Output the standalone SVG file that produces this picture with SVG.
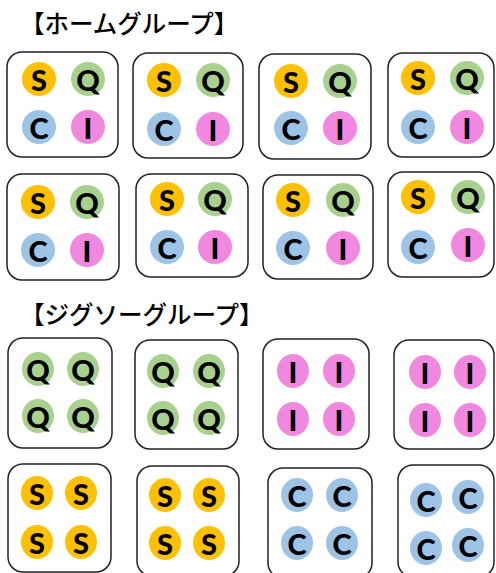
<svg xmlns="http://www.w3.org/2000/svg" width="496" height="573" viewBox="0 0 496 573">
<style>
.title{font-family:"Noto Sans CJK JP","Noto Sans",sans-serif;font-size:24.5px;font-weight:500;fill:#000}
.box{fill:#fff;stroke:#222;stroke-width:1.5}
.s{fill:#FFC000}.q{fill:#A9D18E}.c{fill:#9DC3E6}.i{fill:#F088E0}
.l{font-family:Lato,"Open Sans",sans-serif;font-weight:900;font-size:29px;fill:#000;text-anchor:middle;dominant-baseline:central}
</style>
<rect width="496" height="573" fill="#fff"/>
<text class="title" x="20" y="33">【ホームグループ】</text>
<text class="title" x="20" y="324">【ジグソーグループ】</text>

<g id="home1"><rect class="box" x="7" y="52" width="111" height="105" rx="15"/>
<circle class="s" cx="39" cy="79" r="17"/><text class="l" x="39" y="79">S</text>
<circle class="q" cx="88" cy="79" r="17"/><text class="l" x="88" y="79">Q</text>
<circle class="c" cx="39" cy="127" r="17"/><text class="l" x="39" y="127">C</text>
<circle class="i" cx="88" cy="127" r="17"/><text class="l" x="88" y="127">I</text></g>

<g id="home2"><rect class="box" x="133" y="53" width="110" height="105" rx="15"/>
<circle class="s" cx="164" cy="80" r="17"/><text class="l" x="164" y="80">S</text>
<circle class="q" cx="213" cy="80" r="17"/><text class="l" x="213" y="80">Q</text>
<circle class="c" cx="164" cy="129" r="17"/><text class="l" x="164" y="129">C</text>
<circle class="i" cx="213" cy="129" r="17"/><text class="l" x="213" y="129">I</text></g>

<g id="home3"><rect class="box" x="259" y="54" width="112" height="105" rx="15"/>
<circle class="s" cx="291" cy="81" r="17"/><text class="l" x="291" y="81">S</text>
<circle class="q" cx="340" cy="81" r="17"/><text class="l" x="340" y="81">Q</text>
<circle class="c" cx="291" cy="128" r="17"/><text class="l" x="291" y="128">C</text>
<circle class="i" cx="340" cy="128" r="17"/><text class="l" x="340" y="128">I</text></g>

<g id="home4"><rect class="box" x="388" y="53" width="106" height="104" rx="15"/>
<circle class="s" cx="418" cy="78" r="17"/><text class="l" x="418" y="78">S</text>
<circle class="q" cx="467" cy="78" r="17"/><text class="l" x="467" y="78">Q</text>
<circle class="c" cx="418" cy="127" r="17"/><text class="l" x="418" y="127">C</text>
<circle class="i" cx="467" cy="127" r="17"/><text class="l" x="467" y="127">I</text></g>

<g id="home5"><rect class="box" x="7" y="174" width="112" height="106" rx="15"/>
<circle class="s" cx="38" cy="202" r="17"/><text class="l" x="38" y="202">S</text>
<circle class="q" cx="87" cy="202" r="17"/><text class="l" x="87" y="202">Q</text>
<circle class="c" cx="38" cy="250" r="17"/><text class="l" x="38" y="250">C</text>
<circle class="i" cx="87" cy="250" r="17"/><text class="l" x="87" y="250">I</text></g>

<g id="home6"><rect class="box" x="136" y="174" width="112" height="103" rx="15"/>
<circle class="s" cx="167" cy="199" r="17"/><text class="l" x="167" y="199">S</text>
<circle class="q" cx="215" cy="199" r="17"/><text class="l" x="215" y="199">Q</text>
<circle class="c" cx="167" cy="247" r="17"/><text class="l" x="167" y="247">C</text>
<circle class="i" cx="215" cy="247" r="17"/><text class="l" x="215" y="247">I</text></g>

<g id="home7"><rect class="box" x="263" y="175" width="110" height="104" rx="15"/>
<circle class="s" cx="293" cy="200" r="17"/><text class="l" x="293" y="200">S</text>
<circle class="q" cx="343" cy="200" r="17"/><text class="l" x="343" y="200">Q</text>
<circle class="c" cx="293" cy="248" r="17"/><text class="l" x="293" y="248">C</text>
<circle class="i" cx="343" cy="248" r="17"/><text class="l" x="343" y="248">I</text></g>

<g id="home8"><rect class="box" x="388" y="172" width="106" height="105" rx="15"/>
<circle class="s" cx="418" cy="197" r="17"/><text class="l" x="418" y="197">S</text>
<circle class="q" cx="468" cy="197" r="17"/><text class="l" x="468" y="197">Q</text>
<circle class="c" cx="418" cy="247" r="17"/><text class="l" x="418" y="247">C</text>
<circle class="i" cx="468" cy="245" r="17"/><text class="l" x="468" y="245">I</text></g>

<g id="jigsawQ1"><rect class="box" x="8" y="338" width="104" height="110" rx="15"/>
<ellipse class="q" cx="38" cy="369" rx="16" ry="17"/><text class="l" x="38" y="369">Q</text>
<ellipse class="q" cx="83" cy="369" rx="16" ry="17"/><text class="l" x="83" y="369">Q</text>
<ellipse class="q" cx="38" cy="416" rx="16" ry="17"/><text class="l" x="38" y="416">Q</text>
<ellipse class="q" cx="83" cy="416" rx="16" ry="17"/><text class="l" x="83" y="416">Q</text></g>

<g id="jigsawQ2"><rect class="box" x="135" y="340" width="103" height="109" rx="15"/>
<ellipse class="q" cx="163" cy="371" rx="16" ry="17"/><text class="l" x="163" y="371">Q</text>
<ellipse class="q" cx="209" cy="371" rx="16" ry="17"/><text class="l" x="209" y="371">Q</text>
<ellipse class="q" cx="163" cy="418" rx="16" ry="17"/><text class="l" x="163" y="418">Q</text>
<ellipse class="q" cx="209" cy="418" rx="16" ry="17"/><text class="l" x="209" y="418">Q</text></g>

<g id="jigsawI1"><rect class="box" x="263" y="339" width="106" height="110" rx="15"/>
<ellipse class="i" cx="293" cy="371" rx="16" ry="17"/><text class="l" x="293" y="371">I</text>
<ellipse class="i" cx="339" cy="371" rx="16" ry="17"/><text class="l" x="339" y="371">I</text>
<ellipse class="i" cx="293" cy="419" rx="16" ry="17"/><text class="l" x="293" y="419">I</text>
<ellipse class="i" cx="339" cy="419" rx="16" ry="17"/><text class="l" x="339" y="419">I</text></g>

<g id="jigsawI2"><rect class="box" x="394" y="340" width="100" height="109" rx="15"/>
<ellipse class="i" cx="425" cy="372" rx="16" ry="17"/><text class="l" x="425" y="372">I</text>
<ellipse class="i" cx="470" cy="372" rx="16" ry="17"/><text class="l" x="470" y="372">I</text>
<ellipse class="i" cx="425" cy="420" rx="16" ry="17"/><text class="l" x="425" y="420">I</text>
<ellipse class="i" cx="470" cy="420" rx="16" ry="17"/><text class="l" x="470" y="420">I</text></g>

<g id="jigsawS1"><rect class="box" x="8" y="464" width="103" height="108" rx="15"/>
<ellipse class="s" cx="37" cy="493" rx="16" ry="17"/><text class="l" x="37" y="493">S</text>
<ellipse class="s" cx="81" cy="493" rx="16" ry="17"/><text class="l" x="81" y="493">S</text>
<ellipse class="s" cx="37" cy="542" rx="16" ry="17"/><text class="l" x="37" y="542">S</text>
<ellipse class="s" cx="81" cy="542" rx="16" ry="17"/><text class="l" x="81" y="542">S</text></g>

<g id="jigsawS2"><rect class="box" x="137" y="466" width="102" height="110" rx="15"/>
<ellipse class="s" cx="165" cy="495" rx="16" ry="17"/><text class="l" x="165" y="495">S</text>
<ellipse class="s" cx="209" cy="495" rx="16" ry="17"/><text class="l" x="209" y="495">S</text>
<ellipse class="s" cx="165" cy="543" rx="16" ry="17"/><text class="l" x="165" y="543">S</text>
<ellipse class="s" cx="209" cy="543" rx="16" ry="17"/><text class="l" x="209" y="543">S</text></g>

<g id="jigsawC1"><rect class="box" x="268" y="468" width="104" height="110" rx="15"/>
<ellipse class="c" cx="297" cy="495" rx="16" ry="17"/><text class="l" x="297" y="495">C</text>
<ellipse class="c" cx="342" cy="495" rx="16" ry="17"/><text class="l" x="342" y="495">C</text>
<ellipse class="c" cx="297" cy="543" rx="16" ry="17"/><text class="l" x="297" y="543">C</text>
<ellipse class="c" cx="342" cy="543" rx="16" ry="17"/><text class="l" x="342" y="543">C</text></g>

<g id="jigsawC2"><rect class="box" x="398" y="465" width="96" height="112" rx="15"/>
<ellipse class="c" cx="426" cy="500" rx="16" ry="17"/><text class="l" x="426" y="500">C</text>
<ellipse class="c" cx="468" cy="497" rx="16" ry="17"/><text class="l" x="468" y="497">C</text>
<ellipse class="c" cx="426" cy="548" rx="16" ry="17"/><text class="l" x="426" y="548">C</text>
<ellipse class="c" cx="468" cy="545" rx="16" ry="17"/><text class="l" x="468" y="545">C</text></g>

<g id="connectors"/>
</svg>
